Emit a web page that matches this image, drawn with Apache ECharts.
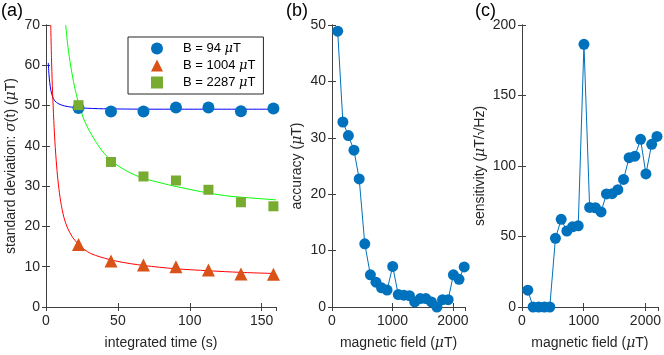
<!DOCTYPE html>
<html>
<head>
<meta charset="utf-8">
<script src="https://cdn.jsdelivr.net/npm/echarts@6/dist/echarts.min.js"></script>
<style>
html,body{margin:0;padding:0;background:#fff;}
#chart{width:664px;height:355px;}
</style>
</head>
<body>
<div id="chart"></div>
<script>
// (a) 积分时间 vs 标准偏差
var timeA = [22.6, 45.2, 67.8, 90.4, 113, 135.6, 158.2];
var sd94 = [49.4, 48.5, 48.5, 49.5, 49.5, 48.6, 49.3];
var sd1004 = [15.5, 11.4, 10.4, 10.0, 9.2, 8.2, 8.1];
var sd2287 = [50.1, 36.0, 32.4, 31.4, 29.1, 26.0, 25.0];
// fit curves
var fitT94 = [1.6, 2.0, 2.6, 3.4, 4.4, 6, 9, 13, 18, 25, 40, 80, 160];
var fit94 = [60.6, 58.0, 55.7, 53.8, 52.4, 51.2, 50.4, 49.9, 49.6, 49.4, 49.2, 49.1, 49.1];
var fitT1004 = [3.3, 3.8, 4.4, 5.2, 6.2, 7.4, 8.6, 10.2, 12.5, 15, 18.5, 22, 27, 31, 38, 50, 68, 90, 113, 135, 160];
var fit1004 = [70, 62, 55, 48, 41, 35, 30.5, 26.2, 22.2, 19.6, 17.3, 15.8, 14.2, 13.3, 12.4, 11.3, 10.3, 9.5, 9.0, 8.6, 8.3];
var fitT2287 = [13.7, 15.3, 17.2, 19.8, 22.7, 27, 33.3, 39, 45.8, 53, 61, 68, 80, 90.5, 112.8, 128, 145, 160];
var fit2287 = [70, 64.5, 59.8, 54.8, 50.6, 46.0, 41.8, 38.8, 36.2, 34.4, 32.9, 31.9, 30.8, 29.9, 28.3, 27.5, 27.0, 26.6];
var legendNames = ['B = 94 μT', 'B = 1004 μT', 'B = 2287 μT'];

// (b)(c) 磁场
var fieldB = [94, 180, 271, 363, 450, 542, 635, 727, 819, 911, 1004, 1096, 1189, 1281, 1368, 1460, 1553, 1645, 1736, 1829, 1921, 2008, 2101, 2187];
var accuracy = [48.9, 32.8, 30.4, 27.8, 22.7, 11.2, 5.7, 4.4, 3.4, 3.0, 7.2, 2.2, 2.1, 2.0, 0.9, 1.5, 1.5, 0.9, 0.0, 1.3, 1.3, 5.7, 4.9, 7.1];
var sensitivity = [11.9, 0, 0, 0, 0, 48.7, 62.2, 53.9, 56.9, 57.6, 186.3, 70.6, 70.4, 67.4, 80.2, 80.4, 83.2, 90.5, 105.9, 107, 118.9, 94.4, 115.4, 121];

var AXC = '#404040';
var FONT = 'Liberation Sans, Arial, sans-serif';

function pairs(xs, ys) {
	var out = [];
	for (var i = 0; i < xs.length; ++i) out.push([xs[i], ys[i]]);
	return out;
}

var nameRich = {
	n: {fontFamily: FONT, fontSize: 14, color: '#262626'},
	i: {fontFamily: 'DejaVu Serif, serif', fontStyle: 'italic', fontSize: 14, color: '#262626'}
};

// 一个面板: 下/上 x 轴, 左/右 y 轴
var grids = [], xAxes = [], yAxes = [];
function addPanel(box, xr, yr, xname, yname, yGap) {
	var gi = grids.length;
	grids.push({left: box[0], top: box[1], width: box[2], height: box[3]});
	var common = {
		type: 'value', gridIndex: gi, splitLine: {show: false},
		axisLine: {show: true, lineStyle: {color: AXC, width: 1}},
		axisTick: {show: true, inside: true, length: 4, lineStyle: {color: AXC}}
	};
	xAxes.push(Object.assign({}, common, {
		position: 'bottom', min: xr[0], max: xr[1], interval: xr[2],
		axisLabel: {color: '#262626', fontFamily: FONT, fontSize: 14, margin: 7, showMaxLabel: xr[3],
			formatter: function (v) { return String(v); }},
		name: xname, nameLocation: 'middle', nameGap: 29, nameTextStyle: {rich: nameRich}
	}));
	xAxes.push(Object.assign({}, common, {
		position: 'top', min: xr[0], max: xr[1], interval: xr[2], axisLabel: {show: false}
	}));
	yAxes.push(Object.assign({}, common, {
		position: 'left', min: yr[0], max: yr[1], interval: yr[2],
		axisLabel: {color: '#262626', fontFamily: FONT, fontSize: 14, margin: 6},
		name: yname, nameLocation: 'middle', nameGap: yGap, nameTextStyle: {rich: nameRich}
	}));
	yAxes.push(Object.assign({}, common, {
		position: 'right', min: yr[0], max: yr[1], interval: yr[2], axisLabel: {show: false}
	}));
	return 2 * gi;
}

var ia = addPanel([46, 25, 230, 285], [0, 160, 50, false], [0, 70, 10],
	'{n|integrated time (s)}', '{n|standard deviation: }{i|σ}{n|(t) (}{i|μ}{n|T)}', 28);
var ib = addPanel([332, 25, 133, 285], [0, 2200, 1000, false], [0, 50, 10],
	'{n|magnetic field (}{i|μ}{n|T)}', '{n|accuracy (}{i|μ}{n|T)}', 28);
var ic = addPanel([522, 25, 136, 286], [0, 2200, 1000, false], [0, 200, 50],
	'{n|magnetic field (}{i|μ}{n|T)}', '{n|sensitivity (}{i|μ}{n|T/√Hz)}', 35);

function fitLine(idx, xs, ys, color) {
	return {
		type: 'line', xAxisIndex: idx, yAxisIndex: idx, data: pairs(xs, ys),
		smooth: 0.3, showSymbol: false, silent: true,
		lineStyle: {color: color, width: 1}, z: 2
	};
}
function marks(idx, name, ys, symbol, size, color) {
	return {
		type: 'scatter', name: name, xAxisIndex: idx, yAxisIndex: idx, data: pairs(timeA, ys),
		symbol: symbol, symbolSize: size, itemStyle: {color: color, opacity: 1}, z: 3
	};
}
function dotLine(idx, ys) {
	return {
		type: 'line', xAxisIndex: idx, yAxisIndex: idx, data: pairs(fieldB, ys),
		symbol: 'circle', symbolSize: 11, showAllSymbol: true, clip: false,
		lineStyle: {color: '#0072BD', width: 1},
		itemStyle: {color: '#0072BD', borderWidth: 0}
	};
}

var series = [
	fitLine(ia, fitT94, fit94, '#0000ff'),
	fitLine(ia, fitT1004, fit1004, '#ff0000'),
	fitLine(ia, fitT2287, fit2287, '#00ff00'),
	marks(ia, legendNames[0], sd94, 'circle', 12, '#0072BD'),
	marks(ia, legendNames[1], sd1004, 'triangle', 13, '#D95319'),
	marks(ia, legendNames[2], sd2287, 'rect', 10, '#77AC30'),
	dotLine(ib, accuracy),
	dotLine(ic, sensitivity)
];

var chart = echarts.init(document.getElementById('chart'), null, {renderer: 'canvas'});
chart.setOption({
	animation: false,
	backgroundColor: '#fff',
	grid: grids,
	xAxis: xAxes,
	yAxis: yAxes,
	legend: {
		orient: 'vertical', left: 128, top: 37, selectedMode: false,
		padding: [5, 8, 5, 23], itemGap: 4, itemWidth: 12, itemHeight: 12,
		backgroundColor: '#fff', borderColor: '#262626', borderWidth: 1,
		data: [
			{name: legendNames[0], icon: 'circle'},
			{name: legendNames[1], icon: 'triangle'},
			{name: legendNames[2], icon: 'rect'}
		],
		formatter: function (nm) { return '{n|' + nm.replace('μ', '}{i|μ}{n|') + '}'; },
		textStyle: {padding: [0, 0, 0, 15], rich: {
			n: {fontFamily: FONT, fontSize: 13, color: '#000'},
			i: {fontFamily: 'DejaVu Serif, serif', fontStyle: 'italic', fontSize: 13, color: '#000'}
		}}
	},
	graphic: [
		{type: 'text', left: 1, top: 2, style: {text: '(a)', fontFamily: FONT, fontSize: 18, fill: '#000'}},
		{type: 'text', left: 286, top: 2, style: {text: '(b)', fontFamily: FONT, fontSize: 18, fill: '#000'}},
		{type: 'text', left: 475, top: 2, style: {text: '(c)', fontFamily: FONT, fontSize: 18, fill: '#000'}}
	],
	series: series
});
</script>
</body>
</html>
